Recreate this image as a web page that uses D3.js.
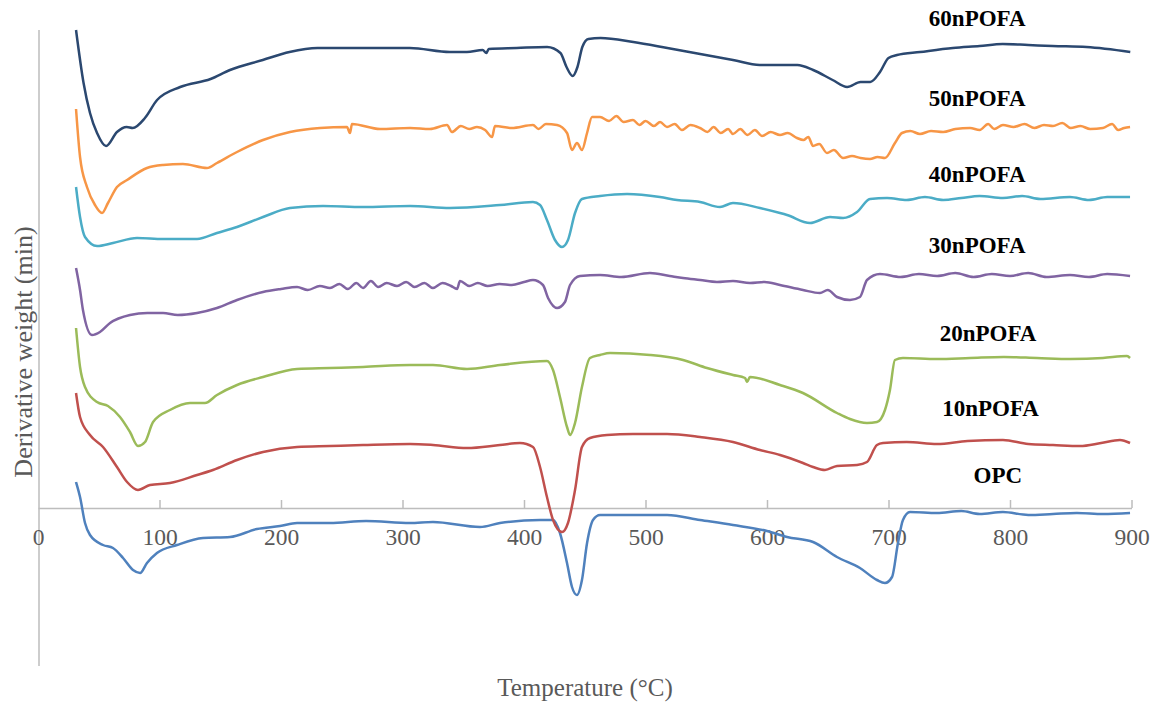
<!DOCTYPE html>
<html>
<head>
<meta charset="utf-8">
<script src="https://cdn.jsdelivr.net/npm/d3@7"></script>
<style>
  body { margin: 0; background: #fff; }
  .line { fill: none; stroke-width: 2.5; stroke-linejoin: round; }
  .axis-title { font-family: "Liberation Serif", "Times New Roman", serif; font-size: 25px; fill: #595959; }
  .tick text { font-family: "Liberation Serif", "Times New Roman", serif; font-size: 23.5px; fill: #595959; }
  .label { font-family: "Liberation Serif", "Times New Roman", serif; font-size: 23px; font-weight: bold; fill: #000; }
</style>
</head>
<body>
<div id="chart"></div>
<script>
// [temperature (C), derivative weight (arbitrary, offset per curve)]
var OPC = [[31.3,0.26],[34.6,0.11],[38.7,-0.15],[42.8,-0.27],[53.5,-0.37],[61.7,-0.40],[70,-0.50],[78.2,-0.62],
  [84,-0.65],[89.7,-0.55],[97.9,-0.45],[114.4,-0.37],[135.8,-0.30],[158,-0.29],[180.2,-0.21],[199.2,-0.18],
  [213.2,-0.15],[240.3,-0.15],[270,-0.13],[306.2,-0.15],[325.1,-0.14],[363.8,-0.19],[380.2,-0.15],[413.2,-0.12],
  [423.9,-0.12],[429.6,-0.25],[435.4,-0.55],[439.5,-0.79],[443.6,-0.87],[447.7,-0.72],[451.9,-0.35],[456.8,-0.12],
  [462.6,-0.07],[489.7,-0.07],[517.7,-0.07],[544.9,-0.12],[572,-0.17],[600,-0.23],[616.5,-0.29],[637.9,-0.34],
  [657.6,-0.49],[676.5,-0.60],[690.5,-0.72],[697.1,-0.75],[702.9,-0.69],[707.8,-0.35],[711.9,-0.12],[717.7,-0.04],
  [739.9,-0.05],[760,-0.03],[775,-0.06],[794.2,-0.04],[815,-0.07],[835.4,-0.06],[855,-0.05],[876.5,-0.06],[898.8,-0.05]];

var n10 = [[31.3,1.15],[34.6,0.91],[42.8,0.73],[53.5,0.61],[65,0.41],[73.3,0.26],[82.3,0.18],[92.2,0.23],
  [108.6,0.25],[130.9,0.33],[144,0.38],[163.8,0.48],[185.2,0.56],[213.2,0.61],[240.3,0.62],[267.5,0.63],
  [306.2,0.64],[325.1,0.63],[353.1,0.60],[380.2,0.63],[396.7,0.65],[407.4,0.61],[413.2,0.41],[418.9,0.11],
  [423.9,-0.12],[431.3,-0.24],[436.2,-0.15],[442,0.18],[447.7,0.61],[454.3,0.70],[468.3,0.73],[489.7,0.74],
  [517.7,0.74],[544.9,0.71],[572,0.66],[594.2,0.58],[610.7,0.53],[629.6,0.45],[637.9,0.41],[647.7,0.38],
  [657.6,0.42],[674.1,0.43],[682.3,0.46],[690.5,0.63],[695.5,0.65],[715,0.66],[739.9,0.64],[765,0.67],
  [794.2,0.68],[815,0.64],[835.4,0.63],[857.6,0.62],[875,0.65],[890.5,0.68],[898.8,0.65]];

var n20 = [[31.3,1.80],[34.6,1.41],[38.7,1.21],[48.6,1.06],[57.6,1.02],[67.5,0.91],[75.7,0.76],[82.3,0.62],
  [88.1,0.66],[94.7,0.86],[108.6,0.98],[125.1,1.05],[137.4,1.05],[147.3,1.13],[163.8,1.23],[185.2,1.31],
  [213.2,1.39],[240.3,1.40],[267.5,1.41],[306.2,1.43],[325.1,1.43],[353.1,1.39],[380.2,1.43],[418.9,1.47],
  [423.9,1.38],[429.6,1.11],[435.4,0.81],[437.9,0.73],[442,0.85],[447.7,1.21],[454.3,1.50],[462.6,1.53],
  [470.8,1.55],[503.7,1.53],[530.9,1.48],[550.6,1.40],[572,1.33],[582,1.30],[583.5,1.26],[586,1.31],
  [610.7,1.23],[629.6,1.15],[657.6,0.95],[668.3,0.89],[682.3,0.85],[690.5,0.86],[697.1,0.98],[701.2,1.18],
  [705.3,1.48],[711.9,1.50],[740,1.49],[767.1,1.50],[795,1.51],[822.2,1.50],[850,1.49],[876.5,1.50],
  [896.3,1.52],[898.8,1.50]];

var n30 = [[31.3,2.40],[34.6,2.18],[37,1.98],[44.4,1.73],[51,1.76],[59.3,1.85],[75.7,1.93],[90,1.95],
  [102.9,1.95],[115,1.93],[130.9,1.95],[147.3,2.00],[163.8,2.08],[185.2,2.16],[200,2.19],[213.2,2.21],
  [222,2.18],[232,2.22],[240.3,2.20],[248,2.24],[255,2.19],[262,2.25],[267.5,2.20],[274,2.27],[280,2.21],
  [287,2.25],[295.5,2.22],[303,2.26],[310,2.21],[318,2.25],[325,2.20],[333,2.25],[340,2.22],[344.9,2.19],
  [347.3,2.27],[355,2.22],[362,2.25],[370,2.22],[380,2.24],[390,2.23],[400,2.26],[407.4,2.28],[415.6,2.23],
  [419.8,2.10],[427.2,2.00],[433.7,2.06],[437.9,2.23],[446.1,2.32],[462.6,2.33],[480,2.31],[503.7,2.35],
  [520,2.32],[530.9,2.30],[545,2.28],[558.8,2.26],[572,2.27],[586,2.25],[598,2.26],[610.7,2.23],
  [629.6,2.18],[643.6,2.15],[650,2.18],[657.6,2.11],[668.3,2.08],[676.5,2.11],[682.3,2.28],[693,2.34],
  [710,2.31],[725,2.34],[740,2.32],[755,2.35],[770,2.31],[785,2.34],[800,2.32],[815,2.35],[830,2.31],
  [849.4,2.33],[865,2.31],[880,2.34],[898.8,2.32]];

var n40 = [[31.3,3.21],[34.6,2.91],[38.7,2.71],[48.6,2.62],[61.7,2.65],[81.5,2.70],[102.9,2.69],[130.9,2.69],
  [147.3,2.75],[163.8,2.81],[185.2,2.91],[207.4,3.00],[234.6,3.02],[267.5,3.01],[306.2,3.02],[339.1,3.00],
  [380.2,3.03],[407.4,3.06],[413.2,3.03],[418.9,2.88],[425.5,2.68],[431.3,2.61],[436.2,2.68],[442,2.95],
  [447.7,3.09],[462.6,3.12],[484.8,3.14],[511.9,3.11],[525.9,3.08],[544.9,3.06],[561.3,3.01],[572,3.05],
  [594.2,3.00],[610.7,2.95],[616.5,2.93],[635.4,2.85],[651.9,2.91],[662.6,2.90],[674.1,2.96],[684.8,3.09],
  [698.8,3.10],[715,3.08],[730,3.11],[745,3.08],[760,3.10],[775,3.12],[794.2,3.10],[810,3.12],[825,3.09],
  [849.4,3.11],[865,3.08],[880,3.11],[898.8,3.11]];

var n50 = [[31.3,3.99],[34.6,3.51],[40.3,3.21],[46.9,3.03],[52.7,2.95],[57.6,3.05],[65,3.21],[73.3,3.28],
  [89.7,3.40],[102.9,3.43],[119.3,3.44],[139.1,3.40],[147.3,3.45],[163.8,3.56],[185.2,3.68],[207.4,3.76],
  [232.1,3.80],[254.3,3.81],[256.8,3.75],[258.4,3.84],[281.5,3.79],[306.2,3.80],[322.6,3.79],[336.6,3.83],
  [340.7,3.76],[348,3.82],[355,3.79],[361.3,3.81],[368,3.78],[373.7,3.71],[376.1,3.82],[390,3.80],
  [407.4,3.83],[412,3.79],[418,3.84],[427.2,3.83],[435.4,3.75],[439.5,3.58],[443.6,3.65],[447.7,3.58],
  [451.9,3.75],[456,3.91],[462.6,3.91],[470,3.87],[476,3.92],[482,3.86],[489.7,3.88],[495,3.83],[500,3.87],
  [507,3.82],[512,3.86],[517.7,3.81],[524,3.84],[530,3.78],[537,3.83],[544.9,3.80],[551,3.76],[556,3.81],
  [562,3.75],[568,3.79],[572,3.74],[578,3.79],[584,3.73],[590,3.78],[596,3.72],[603,3.76],[610.7,3.73],
  [617,3.75],[624.7,3.70],[630,3.68],[634,3.71],[637.9,3.62],[643,3.64],[649.4,3.55],[655,3.58],
  [662.6,3.50],[670,3.52],[677,3.50],[684.8,3.49],[691,3.51],[697.1,3.50],[705.3,3.65],[711.1,3.75],
  [718,3.77],[725.9,3.74],[735,3.77],[745,3.76],[755,3.79],[767.1,3.80],[775,3.78],[782,3.84],[787,3.79],
  [794.2,3.83],[803,3.81],[812,3.84],[820,3.80],[828,3.83],[835.4,3.82],[843,3.85],[850,3.80],[858,3.82],
  [866,3.79],[876.5,3.80],[884,3.84],[889,3.78],[894,3.80],[898.8,3.81]];

var n60 = [[31.3,4.78],[37.5,4.25],[42.8,3.95],[48.6,3.75],[56,3.62],[65,3.76],[73,3.81],[78,3.80],
  [88,3.90],[98,4.08],[117,4.21],[142,4.29],[158,4.38],[185,4.48],[207,4.56],[230,4.60],[267,4.60],
  [306,4.60],[339,4.56],[353,4.56],[366,4.58],[369,4.55],[371,4.59],[394,4.60],[419,4.61],[430,4.55],
  [435,4.41],[440,4.32],[444,4.41],[448,4.61],[453,4.69],[463,4.70],[490,4.66],[518,4.60],[545,4.54],
  [572,4.48],[594,4.43],[611,4.43],[625,4.43],[638,4.38],[654,4.28],[666,4.21],[677,4.26],[685,4.26],
  [693,4.36],[700,4.50],[707,4.53],[726,4.56],[753,4.60],[775,4.62],[794,4.64],[815,4.63],[835,4.62],
  [863,4.61],[899,4.56]];

var seriesNames = ["OPC", "10nPOFA", "20nPOFA", "30nPOFA", "40nPOFA", "50nPOFA", "60nPOFA"];
var seriesData = [OPC, n10, n20, n30, n40, n50, n60];
var colors = ["#4f81bd", "#c0504d", "#9bbb59", "#8064a2", "#4bacc6", "#f79646", "#2b4870"];
var xTicks = [0, 100, 200, 300, 400, 500, 600, 700, 800, 900];
// where each curve name sits: [temperature, value]
var labelPos = [[790, 0.33], [784, 1.00], [782, 1.75], [773, 2.63], [773, 3.34], [773, 4.10], [773, 4.90]];

var width = 1153, height = 702;

var x = d3.scaleLinear().domain([0, 900]).range([38, 1131.5]);
var y = d3.scaleLinear().domain([-1.6, 4.8]).range([668, 28]);

var svg = d3.select("#chart").append("svg")
    .attr("width", width)
    .attr("height", height);

// y axis: plain line, no ticks
svg.append("line")
    .attr("x1", x(0) + 1).attr("x2", x(0) + 1)
    .attr("y1", 30).attr("y2", 666)
    .attr("stroke", "#bdbdbd")
    .attr("stroke-width", 1.5);

// x axis through value 0, ticks pointing up
var xAxis = svg.append("g")
    .attr("transform", "translate(0," + y(0) + ")")
    .call(d3.axisBottom(x).tickValues(xTicks).tickSizeInner(-8).tickSizeOuter(0).tickPadding(20));
xAxis.select(".domain").attr("stroke", "#bdbdbd").attr("stroke-width", 1.5);
xAxis.selectAll(".tick line").attr("stroke", "#bdbdbd").attr("stroke-width", 1.5)
    .filter(function(d) { return d === 0; }).remove();

var line = d3.line()
    .x(function(d) { return x(d[0]); })
    .y(function(d) { return y(d[1]); })
    .curve(d3.curveMonotoneX);

svg.selectAll(".line")
    .data(seriesData)
    .enter().append("path")
    .attr("class", "line")
    .attr("stroke", function(d, i) { return colors[i]; })
    .attr("d", line);

svg.selectAll(".label")
    .data(seriesNames)
    .enter().append("text")
    .attr("class", "label")
    .attr("text-anchor", "middle")
    .attr("x", function(d, i) { return x(labelPos[i][0]); })
    .attr("y", function(d, i) { return y(labelPos[i][1]); })
    .attr("dy", "0.35em")
    .text(function(d) { return d; });

svg.append("text")
    .attr("class", "axis-title")
    .attr("text-anchor", "middle")
    .attr("x", 585)
    .attr("y", 696)
    .text("Temperature (°C)");

svg.append("text")
    .attr("class", "axis-title")
    .attr("text-anchor", "middle")
    .style("font-size", "26px")
    .attr("transform", "translate(32,352) rotate(-90)")
    .text("Derivative weight (min)");
</script>
</body>
</html>
